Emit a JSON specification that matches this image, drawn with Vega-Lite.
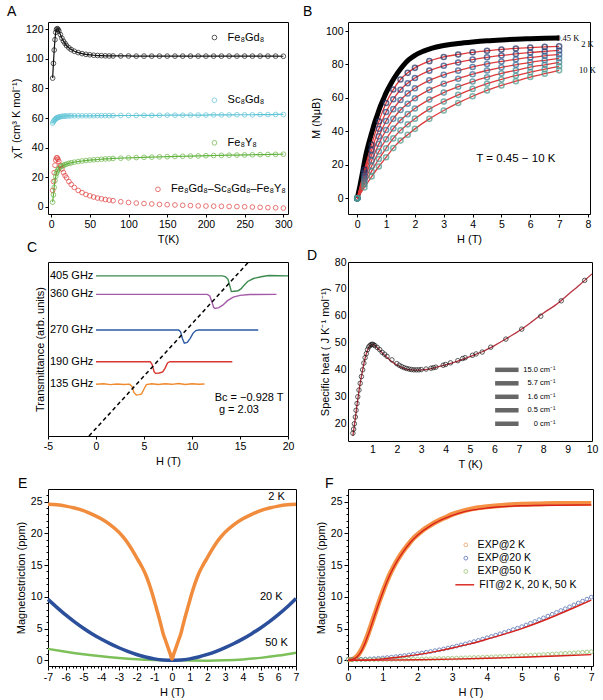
{
  "$schema": "https://vega.github.io/schema/vega-lite/v6.json",
  "padding": {"left": 6, "top": 4, "right": 4, "bottom": 4},
  "bounds": "flush",
  "align": "each",
  "columns": 2,
  "spacing": {"row": 48, "column": 52},
  "resolve": {"scale": {"color": "independent"}},
  "config": {
    "font": "Liberation Sans",
    "view": {"stroke": "#000", "strokeWidth": 1},
    "axis": {"domain": false, "grid": false, "tickColor": "#000", "tickSize": 3, "labelFontSize": 10.5, "labelColor": "#000", "titleFontSize": 11, "titleFontWeight": "normal", "titleColor": "#000", "labelPadding": 2, "titlePadding": 4, "labelFlush": false, "labelOverlap": false, "labelFont": "Liberation Sans", "titleFont": "Liberation Sans"},
    "title": {"fontSize": 14, "fontWeight": "normal", "anchor": "start", "color": "#000", "font": "Liberation Sans"},
    "text": {"font": "Liberation Sans", "fontSize": 10.5, "color": "#000"}
  },
  "datasets": {
    "chi": [
      {"T": 2, "FeGd": 87, "ScGd": 56.5, "FeY": 3, "diff": 11},
      {"T": 3, "FeGd": 97, "ScGd": 57.5, "FeY": 8, "diff": 17},
      {"T": 4, "FeGd": 106, "ScGd": 58.3, "FeY": 13, "diff": 23},
      {"T": 5, "FeGd": 113, "ScGd": 59, "FeY": 17.5, "diff": 28},
      {"T": 6, "FeGd": 118, "ScGd": 59.5, "FeY": 20.5, "diff": 31.5},
      {"T": 7, "FeGd": 120, "ScGd": 59.9, "FeY": 22.5, "diff": 33},
      {"T": 8, "FeGd": 120.5, "ScGd": 60.2, "FeY": 24, "diff": 33},
      {"T": 9, "FeGd": 120, "ScGd": 60.4, "FeY": 25, "diff": 32},
      {"T": 10, "FeGd": 119, "ScGd": 60.6, "FeY": 25.8, "diff": 30.5},
      {"T": 12, "FeGd": 116.5, "ScGd": 60.9, "FeY": 26.8, "diff": 28},
      {"T": 14, "FeGd": 114, "ScGd": 61.1, "FeY": 27.5, "diff": 25.5},
      {"T": 16, "FeGd": 112, "ScGd": 61.2, "FeY": 28, "diff": 23},
      {"T": 18, "FeGd": 110.5, "ScGd": 61.3, "FeY": 28.4, "diff": 21},
      {"T": 20, "FeGd": 109, "ScGd": 61.4, "FeY": 28.8, "diff": 19.5},
      {"T": 23, "FeGd": 107.5, "ScGd": 61.4, "FeY": 29.3, "diff": 17},
      {"T": 26, "FeGd": 106.3, "ScGd": 61.5, "FeY": 29.7, "diff": 15},
      {"T": 30, "FeGd": 105.2, "ScGd": 61.5, "FeY": 30.1, "diff": 13},
      {"T": 35, "FeGd": 104.3, "ScGd": 61.5, "FeY": 30.5, "diff": 11},
      {"T": 40, "FeGd": 103.6, "ScGd": 61.5, "FeY": 30.9, "diff": 9.5},
      {"T": 45, "FeGd": 103.1, "ScGd": 61.5, "FeY": 31.2, "diff": 8.2},
      {"T": 50, "FeGd": 102.8, "ScGd": 61.5, "FeY": 31.5, "diff": 7.3},
      {"T": 55, "FeGd": 102.5, "ScGd": 61.5, "FeY": 31.7, "diff": 6.5},
      {"T": 60, "FeGd": 102.3, "ScGd": 61.6, "FeY": 31.9, "diff": 5.8},
      {"T": 65, "FeGd": 102.2, "ScGd": 61.6, "FeY": 32.1, "diff": 5.3},
      {"T": 70, "FeGd": 102.1, "ScGd": 61.6, "FeY": 32.3, "diff": 4.8},
      {"T": 75, "FeGd": 102, "ScGd": 61.6, "FeY": 32.4, "diff": 4.4},
      {"T": 80, "FeGd": 102, "ScGd": 61.6, "FeY": 32.6, "diff": 4},
      {"T": 90, "FeGd": 102, "ScGd": 61.7, "FeY": 32.8, "diff": 3.3},
      {"T": 100, "FeGd": 102, "ScGd": 61.7, "FeY": 33, "diff": 2.8},
      {"T": 110, "FeGd": 101.9, "ScGd": 61.7, "FeY": 33.2, "diff": 2.4},
      {"T": 120, "FeGd": 101.9, "ScGd": 61.8, "FeY": 33.4, "diff": 2.1},
      {"T": 130, "FeGd": 101.9, "ScGd": 61.8, "FeY": 33.5, "diff": 1.8},
      {"T": 140, "FeGd": 101.9, "ScGd": 61.8, "FeY": 33.7, "diff": 1.5},
      {"T": 150, "FeGd": 101.9, "ScGd": 61.9, "FeY": 33.8, "diff": 1.3},
      {"T": 160, "FeGd": 101.9, "ScGd": 61.9, "FeY": 34, "diff": 1.1},
      {"T": 170, "FeGd": 101.9, "ScGd": 61.9, "FeY": 34.1, "diff": 0.9},
      {"T": 180, "FeGd": 101.9, "ScGd": 62, "FeY": 34.2, "diff": 0.7},
      {"T": 190, "FeGd": 101.9, "ScGd": 62, "FeY": 34.3, "diff": 0.5},
      {"T": 200, "FeGd": 101.9, "ScGd": 62, "FeY": 34.5, "diff": 0.4},
      {"T": 210, "FeGd": 101.9, "ScGd": 62.1, "FeY": 34.6, "diff": 0.3},
      {"T": 220, "FeGd": 101.9, "ScGd": 62.1, "FeY": 34.7, "diff": 0.2},
      {"T": 230, "FeGd": 101.9, "ScGd": 62.1, "FeY": 34.8, "diff": 0.1},
      {"T": 240, "FeGd": 101.9, "ScGd": 62.2, "FeY": 34.9, "diff": 0},
      {"T": 250, "FeGd": 101.9, "ScGd": 62.2, "FeY": 35, "diff": -0.1},
      {"T": 260, "FeGd": 101.9, "ScGd": 62.2, "FeY": 35.1, "diff": -0.3},
      {"T": 270, "FeGd": 101.9, "ScGd": 62.3, "FeY": 35.2, "diff": -0.5},
      {"T": 280, "FeGd": 101.9, "ScGd": 62.3, "FeY": 35.3, "diff": -0.7},
      {"T": 290, "FeGd": 101.9, "ScGd": 62.4, "FeY": 35.4, "diff": -0.8},
      {"T": 300, "FeGd": 101.8, "ScGd": 62.4, "FeY": 35.5, "diff": -1}
    ],
    "chiKey": [
      {"T": 211, "tx": 228, "v": 114.5, "s": "FeGd", "lab": "Fe₈Gd₈"},
      {"T": 211, "tx": 228, "v": 72, "s": "ScGd", "lab": "Sc₈Gd₈"},
      {"T": 211, "tx": 228, "v": 43.2, "s": "FeY", "lab": "Fe₈Y₈"},
      {"T": 138, "tx": 155, "v": 11.7, "s": "diff", "lab": "Fe₈Gd₈–Sc₈Gd₈–Fe₈Y₈"}
    ],
    "magLow": [
      {"H": 0, "M": 0}, {"H": 0.1, "M": 8}, {"H": 0.2, "M": 17}, {"H": 0.3, "M": 26},
      {"H": 0.4, "M": 33}, {"H": 0.5, "M": 39}, {"H": 0.6, "M": 45}, {"H": 0.7, "M": 50},
      {"H": 0.8, "M": 55}, {"H": 0.9, "M": 59}, {"H": 1.0, "M": 63}, {"H": 1.2, "M": 69.5},
      {"H": 1.4, "M": 75}, {"H": 1.6, "M": 79.5}, {"H": 1.8, "M": 83}, {"H": 2.0, "M": 85.5},
      {"H": 2.3, "M": 88}, {"H": 2.6, "M": 89.8}, {"H": 3.0, "M": 91.3}, {"H": 3.5, "M": 92.6},
      {"H": 4.0, "M": 93.5}, {"H": 4.5, "M": 94.2}, {"H": 5.0, "M": 94.7}, {"H": 5.5, "M": 95.1},
      {"H": 6.0, "M": 95.4}, {"H": 6.5, "M": 95.7}, {"H": 7.0, "M": 95.9}
    ],
    "mag": [
      {"H": 0, "k2": 0, "k3": 0, "k4": 0, "k5": 0, "k6": 0, "k8": 0, "k10": 0},
      {"H": 0.25, "k2": 17, "k3": 15.3, "k4": 13.5, "k5": 11.8, "k6": 10, "k8": 8.3, "k10": 6.5},
      {"H": 0.5, "k2": 32, "k3": 28.8, "k4": 25.7, "k5": 22.5, "k6": 19.3, "k8": 16.2, "k10": 13},
      {"H": 0.75, "k2": 46, "k3": 41.5, "k4": 37, "k5": 32.5, "k6": 28, "k8": 23.5, "k10": 19},
      {"H": 1, "k2": 57, "k3": 51.6, "k4": 46.2, "k5": 40.8, "k6": 35.3, "k8": 29.9, "k10": 24.5},
      {"H": 1.25, "k2": 65, "k3": 59.2, "k4": 53.3, "k5": 47.5, "k6": 41.7, "k8": 35.8, "k10": 30},
      {"H": 1.5, "k2": 71, "k3": 64.9, "k4": 58.8, "k5": 52.8, "k6": 46.7, "k8": 40.6, "k10": 34.5},
      {"H": 1.75, "k2": 75, "k3": 68.8, "k4": 62.7, "k5": 56.5, "k6": 50.3, "k8": 44.2, "k10": 38},
      {"H": 2, "k2": 78, "k3": 71.9, "k4": 65.8, "k5": 59.8, "k6": 53.7, "k8": 47.6, "k10": 41.5},
      {"H": 2.5, "k2": 82, "k3": 76.3, "k4": 70.5, "k5": 64.8, "k6": 59, "k8": 53.3, "k10": 47.5},
      {"H": 3, "k2": 84.5, "k3": 79.2, "k4": 73.8, "k5": 68.5, "k6": 63.2, "k8": 57.8, "k10": 52.5},
      {"H": 3.5, "k2": 86, "k3": 81.2, "k4": 76.3, "k5": 71.5, "k6": 66.7, "k8": 61.8, "k10": 57},
      {"H": 4, "k2": 87.3, "k3": 82.9, "k4": 78.5, "k5": 74.2, "k6": 69.8, "k8": 65.4, "k10": 61},
      {"H": 4.5, "k2": 88.2, "k3": 84.3, "k4": 80.3, "k5": 76.4, "k6": 72.4, "k8": 68.5, "k10": 64.5},
      {"H": 5, "k2": 89, "k3": 85.4, "k4": 81.8, "k5": 78.3, "k6": 74.7, "k8": 71.1, "k10": 67.5},
      {"H": 5.5, "k2": 89.6, "k3": 86.3, "k4": 83.1, "k5": 79.8, "k6": 76.5, "k8": 73.3, "k10": 70},
      {"H": 6, "k2": 90.1, "k3": 87.2, "k4": 84.2, "k5": 81.3, "k6": 78.4, "k8": 75.4, "k10": 72.5},
      {"H": 6.5, "k2": 90.5, "k3": 87.8, "k4": 85.2, "k5": 82.5, "k6": 79.8, "k8": 77.2, "k10": 74.5},
      {"H": 7, "k2": 90.8, "k3": 88.4, "k4": 86, "k5": 83.7, "k6": 81.3, "k8": 78.9, "k10": 76.5}
    ],
    "magKey": [
      {"H": 7.3, "M": 96, "lab": "0.45 K", "al": "left"},
      {"H": 7.98, "M": 92, "lab": "2 K", "al": "right"},
      {"H": 7.98, "M": 76.8, "lab": "10 K", "al": "right"}
    ],
    "epr": [
      {"f": "405", "H": 0, "y": 9.2}, {"f": "405", "H": 13.2, "y": 9.2}, {"f": "405", "H": 13.5, "y": 9.15},
      {"f": "405", "H": 13.75, "y": 9.0}, {"f": "405", "H": 13.95, "y": 8.6}, {"f": "405", "H": 14.1, "y": 8.3},
      {"f": "405", "H": 14.4, "y": 8.32}, {"f": "405", "H": 14.8, "y": 8.35}, {"f": "405", "H": 15.1, "y": 8.45},
      {"f": "405", "H": 15.4, "y": 8.65}, {"f": "405", "H": 15.8, "y": 8.88}, {"f": "405", "H": 16.4, "y": 9.05},
      {"f": "405", "H": 17.2, "y": 9.15}, {"f": "405", "H": 18, "y": 9.22}, {"f": "405", "H": 20, "y": 9.2},
      {"f": "360", "H": 0, "y": 8.14}, {"f": "360", "H": 11.6, "y": 8.14}, {"f": "360", "H": 11.85, "y": 8.05},
      {"f": "360", "H": 12.05, "y": 7.75}, {"f": "360", "H": 12.25, "y": 7.4}, {"f": "360", "H": 12.4, "y": 7.33},
      {"f": "360", "H": 12.8, "y": 7.38}, {"f": "360", "H": 13.2, "y": 7.52}, {"f": "360", "H": 13.7, "y": 7.78},
      {"f": "360", "H": 14.3, "y": 7.98}, {"f": "360", "H": 15, "y": 8.08}, {"f": "360", "H": 16, "y": 8.13},
      {"f": "360", "H": 18.8, "y": 8.14},
      {"f": "270", "H": 0, "y": 6.09}, {"f": "270", "H": 8.6, "y": 6.09}, {"f": "270", "H": 8.8, "y": 6.0},
      {"f": "270", "H": 9.0, "y": 5.6}, {"f": "270", "H": 9.2, "y": 5.33}, {"f": "270", "H": 9.5, "y": 5.38},
      {"f": "270", "H": 9.8, "y": 5.6}, {"f": "270", "H": 10.1, "y": 5.9}, {"f": "270", "H": 10.4, "y": 6.06},
      {"f": "270", "H": 10.7, "y": 6.09}, {"f": "270", "H": 16.9, "y": 6.09},
      {"f": "190", "H": 0, "y": 4.27}, {"f": "190", "H": 5.65, "y": 4.27}, {"f": "190", "H": 5.85, "y": 4.1},
      {"f": "190", "H": 6.05, "y": 3.7}, {"f": "190", "H": 6.2, "y": 3.6}, {"f": "190", "H": 6.6, "y": 3.62},
      {"f": "190", "H": 6.95, "y": 3.68}, {"f": "190", "H": 7.2, "y": 3.9}, {"f": "190", "H": 7.45, "y": 4.2},
      {"f": "190", "H": 7.7, "y": 4.27}, {"f": "190", "H": 14.2, "y": 4.27},
      {"f": "135", "H": 0, "y": 2.97}, {"f": "135", "H": 0.8, "y": 3.0}, {"f": "135", "H": 1.5, "y": 2.95},
      {"f": "135", "H": 2.2, "y": 2.99}, {"f": "135", "H": 2.9, "y": 2.96}, {"f": "135", "H": 3.5, "y": 2.98},
      {"f": "135", "H": 3.75, "y": 2.85}, {"f": "135", "H": 3.95, "y": 2.5}, {"f": "135", "H": 4.2, "y": 2.36},
      {"f": "135", "H": 4.5, "y": 2.38}, {"f": "135", "H": 4.75, "y": 2.42}, {"f": "135", "H": 5.0, "y": 2.7},
      {"f": "135", "H": 5.25, "y": 2.95}, {"f": "135", "H": 5.8, "y": 3.0}, {"f": "135", "H": 6.5, "y": 2.96},
      {"f": "135", "H": 7.2, "y": 3.0}, {"f": "135", "H": 7.9, "y": 2.97}, {"f": "135", "H": 8.6, "y": 3.02},
      {"f": "135", "H": 9.3, "y": 2.96}, {"f": "135", "H": 10, "y": 3.0}, {"f": "135", "H": 10.7, "y": 2.97},
      {"f": "135", "H": 11.3, "y": 2.99}
    ],
    "eprKey": [
      {"lab": "405 GHz", "H": -4.8, "y": 9.2}, {"lab": "360 GHz", "H": -4.8, "y": 8.14}, {"lab": "270 GHz", "H": -4.8, "y": 6.09},
      {"lab": "190 GHz", "H": -4.8, "y": 4.27}, {"lab": "135 GHz", "H": -4.8, "y": 2.97},
      {"lab": "Bc = −0.928 T", "H": 12.36, "y": 2.17}, {"lab": "g = 2.03", "H": 12.8, "y": 1.49}
    ],
    "eprFit": [{"H": -0.73, "y": 0}, {"H": 15.9, "y": 10}],
    "cp": [
      {"T": 0.2, "C": 16.5}, {"T": 0.23, "C": 18}, {"T": 0.26, "C": 20}, {"T": 0.3, "C": 22.5},
      {"T": 0.33, "C": 25}, {"T": 0.37, "C": 27.5}, {"T": 0.4, "C": 30}, {"T": 0.45, "C": 32.5},
      {"T": 0.5, "C": 35}, {"T": 0.55, "C": 37.5}, {"T": 0.6, "C": 40}, {"T": 0.65, "C": 42.5},
      {"T": 0.7, "C": 44.5}, {"T": 0.75, "C": 46}, {"T": 0.8, "C": 47.5}, {"T": 0.85, "C": 48.5},
      {"T": 0.9, "C": 49}, {"T": 0.95, "C": 49.4}, {"T": 1.0, "C": 49.5}, {"T": 1.05, "C": 49.3},
      {"T": 1.1, "C": 49}, {"T": 1.2, "C": 48.3}, {"T": 1.3, "C": 47.5}, {"T": 1.4, "C": 46.5},
      {"T": 1.5, "C": 45.8}, {"T": 1.6, "C": 45}, {"T": 1.8, "C": 43.7}, {"T": 2.0, "C": 42.3},
      {"T": 2.1, "C": 41.7}, {"T": 2.2, "C": 41.2}, {"T": 2.3, "C": 40.8}, {"T": 2.4, "C": 40.5},
      {"T": 2.5, "C": 40.3}, {"T": 2.6, "C": 40.1}, {"T": 2.7, "C": 40}, {"T": 2.8, "C": 40},
      {"T": 2.9, "C": 40}, {"T": 3.0, "C": 40.1}, {"T": 3.2, "C": 40.3}, {"T": 3.4, "C": 40.6},
      {"T": 3.5, "C": 40.8}, {"T": 3.6, "C": 41}, {"T": 3.9, "C": 41.7}, {"T": 4.0, "C": 42},
      {"T": 4.2, "C": 42.6}, {"T": 4.5, "C": 43.4}, {"T": 4.7, "C": 44.2}, {"T": 4.8, "C": 44.5},
      {"T": 5.1, "C": 45.4}, {"T": 5.25, "C": 45.9}, {"T": 5.5, "C": 46.6}, {"T": 5.85, "C": 48.4},
      {"T": 6.47, "C": 51.4}, {"T": 7.12, "C": 55.1}, {"T": 7.9, "C": 59.9}, {"T": 8.74, "C": 65.6},
      {"T": 9.7, "C": 73.2}
    ],
    "cpFit": [
      {"T": 0.2, "C": 15.5}, {"T": 0.3, "C": 22}, {"T": 0.4, "C": 29}, {"T": 0.5, "C": 35},
      {"T": 0.6, "C": 40}, {"T": 0.7, "C": 44.3}, {"T": 0.8, "C": 47.3}, {"T": 0.9, "C": 49},
      {"T": 1.0, "C": 49.5}, {"T": 1.1, "C": 49.1}, {"T": 1.2, "C": 48.2}, {"T": 1.4, "C": 46.3},
      {"T": 1.6, "C": 44.6}, {"T": 1.8, "C": 43}, {"T": 2.0, "C": 41.8}, {"T": 2.2, "C": 40.9},
      {"T": 2.4, "C": 40.3}, {"T": 2.6, "C": 40}, {"T": 2.8, "C": 39.9}, {"T": 3.0, "C": 40},
      {"T": 3.3, "C": 40.3}, {"T": 3.6, "C": 40.9}, {"T": 4.0, "C": 41.8}, {"T": 4.5, "C": 43.2},
      {"T": 5.0, "C": 44.9}, {"T": 5.5, "C": 46.7}, {"T": 6.0, "C": 49}, {"T": 6.5, "C": 51.6},
      {"T": 7.0, "C": 54.4}, {"T": 7.5, "C": 57.6}, {"T": 8.0, "C": 61}, {"T": 8.5, "C": 64},
      {"T": 9.0, "C": 67.8}, {"T": 9.5, "C": 71.6}, {"T": 10.0, "C": 75.6}
    ],
    "cpKey": [
      {"lab": "15.0 cm⁻¹", "T": 6.03, "T2": 6.99, "Tl": 8.5, "C": 40}, {"lab": "5.7 cm⁻¹", "T": 6.03, "T2": 6.99, "Tl": 8.5, "C": 35},
      {"lab": "1.6 cm⁻¹", "T": 6.03, "T2": 6.99, "Tl": 8.5, "C": 30}, {"lab": "0.5 cm⁻¹", "T": 6.03, "T2": 6.99, "Tl": 8.5, "C": 25},
      {"lab": "0 cm⁻¹", "T": 6.03, "T2": 6.99, "Tl": 8.5, "C": 20}
    ],
    "e2": [
      {"H": -7, "v": 24.6}, {"H": -6.5, "v": 24.5}, {"H": -6, "v": 24.3}, {"H": -5.5, "v": 24.0},
      {"H": -5, "v": 23.6}, {"H": -4.5, "v": 23.0}, {"H": -4, "v": 22.3}, {"H": -3.5, "v": 21.4},
      {"H": -3, "v": 20.2}, {"H": -2.75, "v": 19.4}, {"H": -2.5, "v": 18.5}, {"H": -2.25, "v": 17.4},
      {"H": -2, "v": 16.2}, {"H": -1.75, "v": 15.0}, {"H": -1.5, "v": 13.6}, {"H": -1.25, "v": 11.7},
      {"H": -1, "v": 9.4}, {"H": -0.9, "v": 8.4}, {"H": -0.8, "v": 7.4}, {"H": -0.7, "v": 6.4},
      {"H": -0.6, "v": 5.3}, {"H": -0.5, "v": 4.2}, {"H": -0.4, "v": 3.4}, {"H": -0.3, "v": 2.6},
      {"H": -0.2, "v": 1.8}, {"H": -0.1, "v": 1.0}, {"H": 0, "v": 0.2},
      {"H": 0.1, "v": 1.0}, {"H": 0.2, "v": 1.8}, {"H": 0.3, "v": 2.6}, {"H": 0.4, "v": 3.4},
      {"H": 0.5, "v": 4.2}, {"H": 0.6, "v": 5.3}, {"H": 0.7, "v": 6.4}, {"H": 0.8, "v": 7.4},
      {"H": 0.9, "v": 8.4}, {"H": 1, "v": 9.4}, {"H": 1.25, "v": 11.7}, {"H": 1.5, "v": 13.6},
      {"H": 1.75, "v": 15.0}, {"H": 2, "v": 16.2}, {"H": 2.25, "v": 17.4}, {"H": 2.5, "v": 18.5},
      {"H": 2.75, "v": 19.4}, {"H": 3, "v": 20.2}, {"H": 3.5, "v": 21.4}, {"H": 4, "v": 22.3},
      {"H": 4.5, "v": 23.0}, {"H": 5, "v": 23.6}, {"H": 5.5, "v": 24.0}, {"H": 6, "v": 24.3},
      {"H": 6.5, "v": 24.5}, {"H": 7, "v": 24.6}
    ],
    "e20": [
      {"H": -7, "v": 9.6}, {"H": -6.5, "v": 8.35}, {"H": -6, "v": 7.15}, {"H": -5.5, "v": 6.05},
      {"H": -5, "v": 5.05}, {"H": -4.5, "v": 4.15}, {"H": -4, "v": 3.35}, {"H": -3.5, "v": 2.63},
      {"H": -3, "v": 1.98}, {"H": -2.5, "v": 1.41}, {"H": -2, "v": 0.91}, {"H": -1.5, "v": 0.52},
      {"H": -1, "v": 0.22}, {"H": -0.5, "v": 0.05}, {"H": 0, "v": 0}, {"H": 0.5, "v": 0.05},
      {"H": 1, "v": 0.22}, {"H": 1.5, "v": 0.52}, {"H": 2, "v": 0.92}, {"H": 2.5, "v": 1.42},
      {"H": 3, "v": 2.0}, {"H": 3.5, "v": 2.65}, {"H": 4, "v": 3.38}, {"H": 4.5, "v": 4.2},
      {"H": 5, "v": 5.1}, {"H": 5.5, "v": 6.1}, {"H": 6, "v": 7.2}, {"H": 6.5, "v": 8.4},
      {"H": 7, "v": 9.75}
    ],
    "e50": [
      {"H": -7, "v": 1.8}, {"H": -6, "v": 1.35}, {"H": -5, "v": 0.95}, {"H": -4, "v": 0.62},
      {"H": -3, "v": 0.35}, {"H": -2, "v": 0.15}, {"H": -1, "v": 0.04}, {"H": 0, "v": 0},
      {"H": 1, "v": -0.04}, {"H": 2, "v": -0.06}, {"H": 3, "v": 0.0}, {"H": 4, "v": 0.14},
      {"H": 5, "v": 0.38}, {"H": 6, "v": 0.74}, {"H": 7, "v": 1.2}
    ],
    "eKey": [
      {"H": 5.9, "v": 25.8, "lab": "2 K"}, {"H": 5.6, "v": 9.9, "lab": "20 K"}, {"H": 5.9, "v": 2.8, "lab": "50 K"}
    ],
    "f2": [
      {"H": 0, "v": 0.1}, {"H": 0.1, "v": 0.12}, {"H": 0.2, "v": 0.35}, {"H": 0.3, "v": 0.9},
      {"H": 0.4, "v": 1.8}, {"H": 0.5, "v": 3.0}, {"H": 0.6, "v": 4.5}, {"H": 0.7, "v": 6.1},
      {"H": 0.8, "v": 7.7}, {"H": 0.9, "v": 9.3}, {"H": 1.0, "v": 10.8}, {"H": 1.1, "v": 12.2},
      {"H": 1.2, "v": 13.5}, {"H": 1.3, "v": 14.6}, {"H": 1.4, "v": 15.6}, {"H": 1.5, "v": 16.5},
      {"H": 1.6, "v": 17.3}, {"H": 1.7, "v": 18.0}, {"H": 1.8, "v": 18.7}, {"H": 1.9, "v": 19.3},
      {"H": 2.0, "v": 19.8}, {"H": 2.2, "v": 20.7}, {"H": 2.4, "v": 21.4}, {"H": 2.6, "v": 22.0},
      {"H": 2.8, "v": 22.5}, {"H": 3.0, "v": 23.0}, {"H": 3.3, "v": 23.5}, {"H": 3.6, "v": 23.9},
      {"H": 4.0, "v": 24.2}, {"H": 4.5, "v": 24.45}, {"H": 5.0, "v": 24.6}, {"H": 5.5, "v": 24.65},
      {"H": 6.0, "v": 24.7}, {"H": 6.5, "v": 24.7}, {"H": 7.0, "v": 24.7}
    ],
    "fExp": [
      {"H": 0, "e20": 0.15, "e50": 0.1}, {"H": 0.125, "e20": 0.15, "e50": 0.1}, {"H": 0.25, "e20": 0.16, "e50": 0.1},
      {"H": 0.375, "e20": 0.17, "e50": 0.1}, {"H": 0.5, "e20": 0.19, "e50": 0.11}, {"H": 0.625, "e20": 0.22, "e50": 0.11},
      {"H": 0.75, "e20": 0.26, "e50": 0.11}, {"H": 0.875, "e20": 0.31, "e50": 0.12}, {"H": 1, "e20": 0.37, "e50": 0.13},
      {"H": 1.125, "e20": 0.43, "e50": 0.13}, {"H": 1.25, "e20": 0.5, "e50": 0.14}, {"H": 1.375, "e20": 0.58, "e50": 0.15},
      {"H": 1.5, "e20": 0.66, "e50": 0.16}, {"H": 1.625, "e20": 0.75, "e50": 0.17}, {"H": 1.75, "e20": 0.84, "e50": 0.18},
      {"H": 1.875, "e20": 0.94, "e50": 0.19}, {"H": 2, "e20": 1.04, "e50": 0.2}, {"H": 2.125, "e20": 1.15, "e50": 0.22},
      {"H": 2.25, "e20": 1.27, "e50": 0.23}, {"H": 2.375, "e20": 1.39, "e50": 0.24}, {"H": 2.5, "e20": 1.52, "e50": 0.26},
      {"H": 2.625, "e20": 1.65, "e50": 0.28}, {"H": 2.75, "e20": 1.79, "e50": 0.29}, {"H": 2.875, "e20": 1.94, "e50": 0.31},
      {"H": 3, "e20": 2.09, "e50": 0.33}, {"H": 3.125, "e20": 2.25, "e50": 0.35}, {"H": 3.25, "e20": 2.42, "e50": 0.37},
      {"H": 3.375, "e20": 2.59, "e50": 0.39}, {"H": 3.5, "e20": 2.77, "e50": 0.41}, {"H": 3.625, "e20": 2.95, "e50": 0.44},
      {"H": 3.75, "e20": 3.14, "e50": 0.46}, {"H": 3.875, "e20": 3.34, "e50": 0.48}, {"H": 4, "e20": 3.55, "e50": 0.51},
      {"H": 4.125, "e20": 3.75, "e50": 0.53}, {"H": 4.25, "e20": 3.96, "e50": 0.56}, {"H": 4.375, "e20": 4.17, "e50": 0.59},
      {"H": 4.5, "e20": 4.39, "e50": 0.62}, {"H": 4.625, "e20": 4.61, "e50": 0.65}, {"H": 4.75, "e20": 4.84, "e50": 0.68},
      {"H": 4.875, "e20": 5.07, "e50": 0.71}, {"H": 5, "e20": 5.3, "e50": 0.74}, {"H": 5.125, "e20": 5.57, "e50": 0.77},
      {"H": 5.25, "e20": 5.84, "e50": 0.8}, {"H": 5.375, "e20": 6.12, "e50": 0.84}, {"H": 5.5, "e20": 6.4, "e50": 0.87},
      {"H": 5.625, "e20": 6.68, "e50": 0.91}, {"H": 5.75, "e20": 6.97, "e50": 0.94}, {"H": 5.875, "e20": 7.26, "e50": 0.98},
      {"H": 6, "e20": 7.55, "e50": 1.02}, {"H": 6.125, "e20": 7.84, "e50": 1.06}, {"H": 6.25, "e20": 8.13, "e50": 1.1},
      {"H": 6.375, "e20": 8.43, "e50": 1.14}, {"H": 6.5, "e20": 8.73, "e50": 1.18}, {"H": 6.625, "e20": 9.03, "e50": 1.22},
      {"H": 6.75, "e20": 9.33, "e50": 1.26}, {"H": 6.875, "e20": 9.64, "e50": 1.31}, {"H": 7, "e20": 9.95, "e50": 1.35}
    ],
    "fFit": [
      {"s": "2 K", "H": 0, "v": 0}, {"s": "2 K", "H": 0.2, "v": 0.3}, {"s": "2 K", "H": 0.4, "v": 1.6},
      {"s": "2 K", "H": 0.6, "v": 4.3}, {"s": "2 K", "H": 0.8, "v": 7.6}, {"s": "2 K", "H": 1.0, "v": 10.7},
      {"s": "2 K", "H": 1.2, "v": 13.4}, {"s": "2 K", "H": 1.4, "v": 15.5}, {"s": "2 K", "H": 1.6, "v": 17.2},
      {"s": "2 K", "H": 1.8, "v": 18.6}, {"s": "2 K", "H": 2.0, "v": 19.7}, {"s": "2 K", "H": 2.4, "v": 21.3},
      {"s": "2 K", "H": 2.8, "v": 22.4}, {"s": "2 K", "H": 3.2, "v": 23.2}, {"s": "2 K", "H": 3.6, "v": 23.7},
      {"s": "2 K", "H": 4.0, "v": 24.0}, {"s": "2 K", "H": 5.0, "v": 24.35}, {"s": "2 K", "H": 6.0, "v": 24.45},
      {"s": "2 K", "H": 7.0, "v": 24.5},
      {"s": "20 K", "H": 0, "v": 0}, {"s": "20 K", "H": 0.5, "v": 0.04}, {"s": "20 K", "H": 1, "v": 0.22},
      {"s": "20 K", "H": 1.5, "v": 0.51}, {"s": "20 K", "H": 2, "v": 0.89}, {"s": "20 K", "H": 2.5, "v": 1.37},
      {"s": "20 K", "H": 3, "v": 1.94}, {"s": "20 K", "H": 3.5, "v": 2.58}, {"s": "20 K", "H": 4, "v": 3.33},
      {"s": "20 K", "H": 4.5, "v": 4.13}, {"s": "20 K", "H": 5, "v": 5.0}, {"s": "20 K", "H": 5.5, "v": 6.0},
      {"s": "20 K", "H": 6, "v": 7.1}, {"s": "20 K", "H": 6.5, "v": 8.28}, {"s": "20 K", "H": 7, "v": 9.5},
      {"s": "50 K", "H": 0, "v": 0}, {"s": "50 K", "H": 1, "v": 0.02}, {"s": "50 K", "H": 2, "v": 0.08},
      {"s": "50 K", "H": 3, "v": 0.18}, {"s": "50 K", "H": 4, "v": 0.32}, {"s": "50 K", "H": 5, "v": 0.48},
      {"s": "50 K", "H": 6, "v": 0.68}, {"s": "50 K", "H": 7, "v": 0.9}
    ],
    "fKey": [
      {"s": "e2", "H": 3.39, "Ht": 3.73, "v": 18.2, "lab": "EXP@2 K"},
      {"s": "e20", "H": 3.39, "Ht": 3.73, "v": 16.1, "lab": "EXP@20 K"},
      {"s": "e50", "H": 3.39, "Ht": 3.73, "v": 14.0, "lab": "EXP@50 K"}
    ],
    "fFitKey": [{"H": 3.09, "H2": 3.63, "Ht": 3.78, "v": 11.9, "lab": "FIT@2 K, 20 K, 50 K"}]
  },
  "concat": [
    {
      "width": 240,
      "height": 192,
      "title": {"text": "A", "frame": "group", "dx": -41, "offset": 3},
      "encoding": {
        "x": {"field": "T", "type": "quantitative", "scale": {"domain": [-4, 306], "nice": false, "zero": false}, "axis": {"values": [0, 50, 100, 150, 200, 250, 300], "title": "T(K)"}},
        "y": {"field": "v", "type": "quantitative", "scale": {"domain": [-5, 125], "nice": false, "zero": false}, "axis": {"values": [0, 20, 40, 60, 80, 100, 120], "title": "χT (cm³ K mol⁻¹)"}},
        "color": {"field": "s", "type": "nominal", "scale": {"domain": ["FeGd", "ScGd", "FeY", "diff"], "range": ["#111111", "#5cc4d6", "#63b33f", "#e03a3a"]}, "legend": null}
      },
      "layer": [
        {"data": {"name": "chi"}, "transform": [{"fold": ["FeGd", "ScGd", "FeY"], "as": ["s", "v"]}], "mark": {"type": "line", "strokeWidth": 1.2, "interpolate": "monotone"}},
        {"data": {"name": "chi"}, "transform": [{"fold": ["FeGd", "ScGd", "FeY", "diff"], "as": ["s", "v"]}], "mark": {"type": "point", "filled": false, "size": 22, "strokeWidth": 1}},
        {"data": {"name": "chiKey"}, "mark": {"type": "point", "filled": false, "size": 22, "strokeWidth": 1}},
        {"data": {"name": "chiKey"}, "mark": {"type": "text", "align": "left", "baseline": "middle", "fontSize": 11}, "encoding": {"x": {"field": "tx", "type": "quantitative"}, "text": {"field": "lab"}, "color": {"value": "#000"}}}
      ]
    },
    {
      "width": 242,
      "height": 192,
      "title": {"text": "B", "frame": "group", "dx": -45, "offset": 3},
      "encoding": {
        "x": {"field": "H", "type": "quantitative", "scale": {"domain": [-0.32, 8.07], "nice": false, "zero": false}, "axis": {"values": [0, 1, 2, 3, 4, 5, 6, 7, 8], "title": "H (T)"}},
        "y": {"field": "M", "type": "quantitative", "scale": {"domain": [-9.4, 105.4], "nice": false, "zero": false}, "axis": {"values": [0, 20, 40, 60, 80, 100], "title": "M (NμB)"}}
      },
      "layer": [
        {"data": {"name": "magLow"}, "mark": {"type": "line", "color": "#000", "strokeWidth": 5, "interpolate": "monotone"}},
        {"data": {"name": "mag"}, "transform": [{"fold": ["k2", "k3", "k4", "k5", "k6", "k8", "k10"], "as": ["k", "M"]}], "mark": {"type": "line", "color": "#e0393a", "strokeWidth": 1.3, "interpolate": "monotone"}, "encoding": {"detail": {"field": "k"}}},
        {"data": {"name": "mag"}, "transform": [{"fold": ["k2", "k3", "k4", "k5", "k6", "k8", "k10"], "as": ["k", "M"]}], "mark": {"type": "point", "filled": false, "size": 26, "strokeWidth": 1.5}, "encoding": {"color": {"field": "k", "type": "nominal", "scale": {"domain": ["k2", "k3", "k4", "k5", "k6", "k8", "k10"], "range": ["#1c2a5c", "#24407a", "#2d5a8c", "#346f94", "#3b8294", "#449290", "#4c9a8c"]}, "legend": null}}},
        {"data": {"name": "magKey"}, "mark": {"type": "text", "baseline": "middle", "font": "Liberation Serif", "fontSize": 8.5}, "encoding": {"text": {"field": "lab"}, "align": {"field": "al"}}},
        {"data": {"values": [{"H": 5.5, "M": 23.5}]}, "mark": {"type": "text", "fontSize": 11.5, "baseline": "middle"}, "encoding": {"text": {"value": "T = 0.45 − 10 K"}}}
      ]
    },
    {
      "width": 240,
      "height": 174,
      "title": {"text": "C", "frame": "group", "dx": -21, "offset": 4},
      "encoding": {
        "x": {"field": "H", "type": "quantitative", "scale": {"domain": [-5, 20], "nice": false, "zero": false}, "axis": {"values": [-5, 0, 5, 10, 15, 20], "title": "H (T)", "labelExpr": "'' + datum.value"}},
        "y": {"field": "y", "type": "quantitative", "scale": {"domain": [0, 10], "nice": false, "zero": false}, "axis": {"labels": false, "ticks": false, "title": "Transmittance (arb. units)", "titlePadding": 3}}
      },
      "layer": [
        {"data": {"name": "epr"}, "mark": {"type": "line", "strokeWidth": 1.4}, "encoding": {"color": {"field": "f", "type": "nominal", "scale": {"domain": ["405", "360", "270", "190", "135"], "range": ["#3d8a4f", "#a45aa8", "#2b5aa6", "#d8362e", "#ef8a2e"]}, "legend": null}}},
        {"data": {"name": "eprFit"}, "mark": {"type": "line", "color": "#000", "strokeWidth": 1.5, "strokeDash": [4, 3]}},
        {"data": {"name": "eprKey"}, "mark": {"type": "text", "align": "left", "baseline": "middle", "fontSize": 11}, "encoding": {"text": {"field": "lab"}}}
      ]
    },
    {
      "width": 244,
      "height": 179,
      "title": {"text": "D", "frame": "group", "dx": -41, "offset": 0, "dy": 6},
      "encoding": {
        "x": {"field": "T", "type": "quantitative", "scale": {"domain": [0, 10], "nice": false, "zero": false}, "axis": {"values": [1, 2, 3, 4, 5, 6, 7, 8, 9, 10], "title": "T (K)", "ticks": false, "labelPadding": 3}},
        "y": {"field": "C", "type": "quantitative", "scale": {"domain": [13.6, 80], "nice": false, "zero": false}, "axis": {"values": [20, 30, 40, 50, 60, 70, 80], "title": "Specific heat ( J K⁻¹ mol⁻¹)", "ticks": false, "labelPadding": 2}}
      },
      "layer": [
        {"data": {"name": "cpFit"}, "mark": {"type": "line", "color": "#b8323f", "strokeWidth": 1.3, "interpolate": "monotone"}},
        {"data": {"name": "cp"}, "mark": {"type": "point", "filled": false, "color": "#111", "size": 20, "strokeWidth": 1}},
        {"data": {"name": "cpKey"}, "mark": {"type": "rule", "color": "#666", "strokeWidth": 4.5}, "encoding": {"x2": {"field": "T2"}}},
        {"data": {"name": "cpKey"}, "mark": {"type": "text", "align": "right", "baseline": "middle", "fontSize": 7.5}, "encoding": {"x": {"field": "Tl", "type": "quantitative"}, "text": {"field": "lab"}}}
      ]
    },
    {
      "width": 248,
      "height": 177,
      "title": {"text": "E", "frame": "group", "dx": -30, "offset": 0, "dy": 2},
      "encoding": {
        "x": {"field": "H", "type": "quantitative", "scale": {"domain": [-7, 7], "nice": false, "zero": false}, "axis": {
          "values": [-7, -6.8, -6.6, -6.4, -6.2, -6, -5.8, -5.6, -5.4, -5.2, -5, -4.8, -4.6, -4.4, -4.2, -4, -3.8, -3.6, -3.4, -3.2, -3, -2.8, -2.6, -2.4, -2.2, -2, -1.8, -1.6, -1.4, -1.2, -1, -0.8, -0.6, -0.4, -0.2, 0, 0.2, 0.4, 0.6, 0.8, 1, 1.2, 1.4, 1.6, 1.8, 2, 2.2, 2.4, 2.6, 2.8, 3, 3.2, 3.4, 3.6, 3.8, 4, 4.2, 4.4, 4.6, 4.8, 5, 5.2, 5.4, 5.6, 5.8, 6, 6.2, 6.4, 6.6, 6.8, 7],
          "labelExpr": "datum.value % 1 == 0 ? '' + datum.value : ''",
          "tickSize": {"condition": {"test": "datum.value % 1 == 0", "value": 4}, "value": 2},
          "title": "H (T)"}},
        "y": {"field": "v", "type": "quantitative", "scale": {"domain": [-0.9, 27], "nice": false, "zero": false}, "axis": {
          "values": [0, 1, 2, 3, 4, 5, 6, 7, 8, 9, 10, 11, 12, 13, 14, 15, 16, 17, 18, 19, 20, 21, 22, 23, 24, 25, 26],
          "labelExpr": "datum.value % 5 == 0 ? '' + datum.value : ''",
          "tickSize": {"condition": {"test": "datum.value % 5 == 0", "value": 4}, "value": 2},
          "title": "Magnetostriction (ppm)"}}
      },
      "layer": [
        {"data": {"name": "e50"}, "mark": {"type": "line", "color": "#7dc05a", "strokeWidth": 2.5, "interpolate": "monotone"}},
        {"data": {"name": "e20"}, "mark": {"type": "line", "color": "#2b4f9b", "strokeWidth": 3.5, "interpolate": "monotone"}},
        {"data": {"name": "e2"}, "mark": {"type": "line", "color": "#f08c3c", "strokeWidth": 3.5, "interpolate": "monotone"}},
        {"data": {"name": "eKey"}, "mark": {"type": "text", "baseline": "middle", "fontSize": 11}, "encoding": {"text": {"field": "lab"}}}
      ]
    },
    {
      "width": 245,
      "height": 177,
      "title": {"text": "F", "frame": "group", "dx": -23, "offset": 0, "dy": 2},
      "encoding": {
        "x": {"field": "H", "type": "quantitative", "scale": {"domain": [0, 7.05], "nice": false, "zero": false}, "axis": {
          "values": [0, 0.2, 0.4, 0.6, 0.8, 1, 1.2, 1.4, 1.6, 1.8, 2, 2.2, 2.4, 2.6, 2.8, 3, 3.2, 3.4, 3.6, 3.8, 4, 4.2, 4.4, 4.6, 4.8, 5, 5.2, 5.4, 5.6, 5.8, 6, 6.2, 6.4, 6.6, 6.8, 7],
          "labelExpr": "datum.value % 1 == 0 ? '' + datum.value : ''",
          "tickSize": {"condition": {"test": "datum.value % 1 == 0", "value": 4}, "value": 2},
          "title": "H (T)"}},
        "y": {"field": "v", "type": "quantitative", "scale": {"domain": [-0.9, 27], "nice": false, "zero": false}, "axis": {
          "values": [0, 1, 2, 3, 4, 5, 6, 7, 8, 9, 10, 11, 12, 13, 14, 15, 16, 17, 18, 19, 20, 21, 22, 23, 24, 25, 26],
          "labelExpr": "datum.value % 5 == 0 ? '' + datum.value : ''",
          "tickSize": {"condition": {"test": "datum.value % 5 == 0", "value": 4}, "value": 2},
          "title": "Magnetostriction (ppm)"}},
        "color": {"field": "s", "type": "nominal", "scale": {"domain": ["e2", "e20", "e50"], "range": ["#e8904a", "#3a5aa8", "#86b85a"]}, "legend": null}
      },
      "layer": [
        {"data": {"name": "f2"}, "mark": {"type": "line", "strokeWidth": 5, "interpolate": "monotone"}, "encoding": {"color": {"value": "#f39043"}}},
        {"data": {"name": "fExp"}, "transform": [{"fold": ["e20", "e50"], "as": ["s", "v"]}], "mark": {"type": "point", "filled": false, "size": 14, "strokeWidth": 1}},
        {"data": {"name": "fFit"}, "mark": {"type": "line", "strokeWidth": 1.4, "interpolate": "monotone"}, "encoding": {"color": {"value": "#d8201a"}, "detail": {"field": "s"}}},
        {"data": {"name": "fKey"}, "mark": {"type": "point", "filled": false, "size": 14, "strokeWidth": 1}},
        {"data": {"name": "fKey"}, "mark": {"type": "text", "align": "left", "baseline": "middle", "fontSize": 10.5}, "encoding": {"x": {"field": "Ht", "type": "quantitative"}, "text": {"field": "lab"}, "color": {"value": "#000"}}},
        {"data": {"name": "fFitKey"}, "mark": {"type": "rule", "strokeWidth": 1.4}, "encoding": {"x2": {"field": "H2"}, "color": {"value": "#d8201a"}}},
        {"data": {"name": "fFitKey"}, "mark": {"type": "text", "align": "left", "baseline": "middle", "fontSize": 10.5}, "encoding": {"x": {"field": "Ht", "type": "quantitative"}, "text": {"field": "lab"}, "color": {"value": "#000"}}}
      ]
    }
  ]
}
